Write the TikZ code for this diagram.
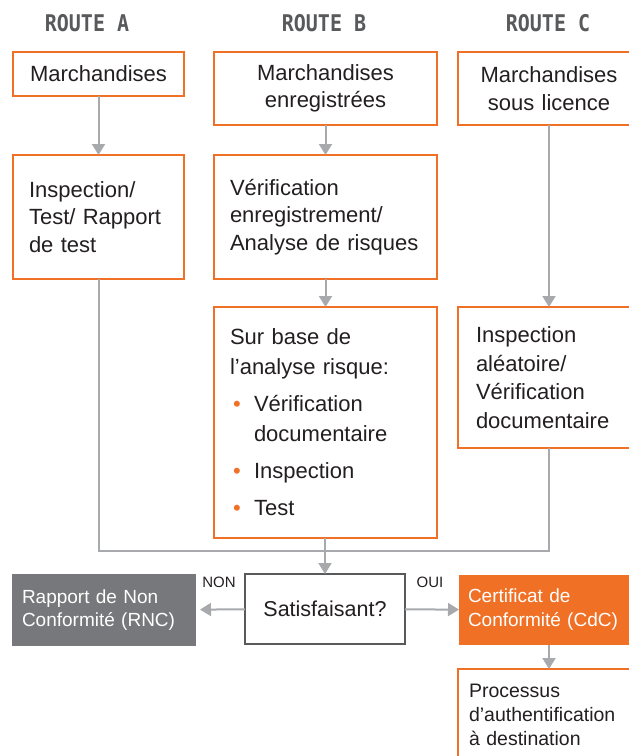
\documentclass[tikz,border=0pt]{standalone}
\usepackage{fontspec}
\setmainfont{Liberation Sans}
\newfontfamily\headfont{DejaVu Sans Mono}
\usetikzlibrary{positioning,arrows.meta}
\definecolor{routeorange}{HTML}{F07125}
\definecolor{linkgray}{HTML}{A7A9AC}
\definecolor{darkgray}{HTML}{58595B}
\definecolor{rncgray}{HTML}{77787B}
\definecolor{textdark}{HTML}{231F20}
\newcommand{\bul}{\makebox[24pt][l]{\hspace*{3pt}\textcolor{routeorange}{•}}}
\newcommand{\routehead}[1]{\scalebox{1}[1.15]{#1}}

\begin{document}
\begin{tikzpicture}[x=1pt,y=-1pt,outer sep=0pt,
    font=\fontsize{22}{27.5}\selectfont, text=textdark]
\tikzstyle{box}=[draw=routeorange, line width=2.5pt, fill=white, anchor=north west,
    inner xsep=16pt, inner ysep=0pt, align=left]
\tikzstyle{head}=[font=\headfont\bfseries\fontsize{20}{24}\selectfont, text=darkgray]
\tikzstyle{link}=[draw=linkgray, line width=2pt]
\tikzstyle{arr}=[link, -{Triangle[length=11pt,width=13pt]}]
\useasboundingbox (0,0) rectangle (629,756);
\clip (0,0) rectangle (629,756);
    % route headers
    \node (ha) [head] at (87,23) {\routehead{ROUTE A}};
    \node (hb) [head] at (324,23) {\routehead{ROUTE B}};
    \node (hc) [head] at (548,23) {\routehead{ROUTE C}};
    % first row
    \node (a1) [box, align=center, text width=139pt, minimum height=44pt] at (13,52) {Marchandises};
    \node (b1) [box, align=center, text width=191pt, minimum height=73pt] at (214,52) {Marchandises\\enregistrées};
    \node (c1) [box, align=center, text width=150pt, minimum height=73pt] at (458,52) {Marchandises\\sous licence};
    % second row
    \node (a2) [box, text width=139pt, minimum height=124pt] at (13,155) {Inspection/\\Test/ Rapport\\de test};
    \node (b2) [box, text width=191pt, minimum height=124pt] at (214,155) {Vérification\\enregistrement/\\Analyse de risques};
    \node (b3) [box, text width=191pt, minimum height=231pt, font=\fontsize{22}{30}\selectfont] at (214,307)
        {Sur base de\\l’analyse risque:\\[7pt]\bul Vérification\\\hspace*{24pt}documentaire\\[7pt]\bul Inspection\\[7pt]\bul Test};
    \node (c2) [box, inner xsep=18pt, text width=146pt, minimum height=141pt, font=\fontsize{22}{28.5}\selectfont] at (458,307)
        {Inspection\\aléatoire/\\Vérification\\documentaire};
    % decision
    \node (sat) [box, draw=darkgray, line width=2pt, align=center, text width=128pt, minimum height=70pt,
        font=\fontsize{21.5}{26}\selectfont] at (245,574) {Satisfaisant?};
    \node (rnc) [box, draw=none, fill=rncgray, text=white, inner xsep=10pt, text width=164pt, minimum height=72pt,
        font=\fontsize{19}{23.5}\selectfont] at (12,574) {Rapport de Non\\Conformité (RNC)};
    \node (cdc) [box, draw=none, fill=routeorange, text=white, inner xsep=9pt, text width=163pt, minimum height=70pt,
        font=\fontsize{19}{24}\selectfont] at (459,575) {Certificat de\\Conformité (CdC)};
    \node (proc) [box, inner xsep=11pt, text width=160pt, minimum height=92pt,
        font=\fontsize{19.5}{24}\selectfont] at (458,669) {Processus\\d’authentification\\à destination};
    \node (non) [font=\fontsize{15}{18}\selectfont] at (219,582) {NON};
    \node (oui) [font=\fontsize{15}{18}\selectfont] at (430,582) {OUI};
    % connectors
    \draw[arr] (a1) -- (a2);
    \draw[arr] (b1) -- (b2);
    \draw[arr] (b2) -- (b3);
    \draw[arr] (c1) -- (c2);
    \coordinate (mid) at (324,551);
    \draw[link] (a2.south) |- (mid) -| (c2.south);
    \draw[arr] (b3.south -| sat.north) -- (sat);
    \draw[arr, shorten >=4pt] (sat) -- (rnc);
    \draw[arr] (sat) -- (cdc);
    \draw[arr] (cdc.south -| proc.north) -- (proc);
\end{tikzpicture}
\end{document}
